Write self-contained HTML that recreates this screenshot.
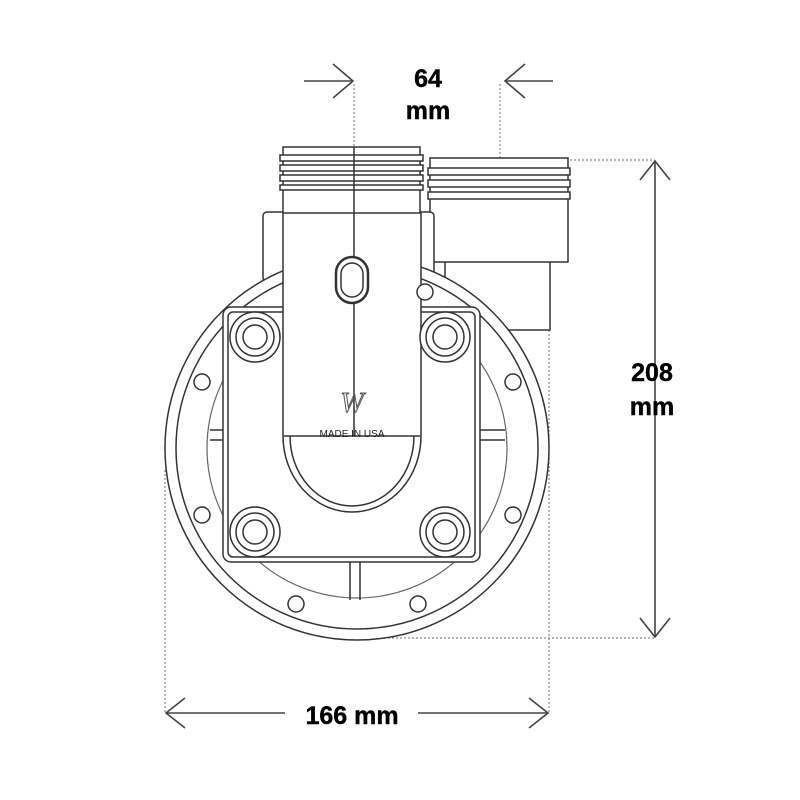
<!DOCTYPE html>
<html><head><meta charset="utf-8"><style>html,body{margin:0;padding:0;background:#fff}svg{display:block}</style></head>
<body>
<svg width="800" height="800" viewBox="0 0 800 800" xmlns="http://www.w3.org/2000/svg" font-family="Liberation Sans, sans-serif">
<g fill="none" stroke="#888" stroke-width="1.2" stroke-dasharray="2,2">
<line x1="354" y1="84" x2="354" y2="155"/>
<line x1="500" y1="84" x2="500" y2="160"/>
<line x1="570" y1="160" x2="655" y2="160"/>
<line x1="360" y1="638" x2="655" y2="638"/>
<line x1="165" y1="470" x2="165" y2="712"/>
<line x1="549" y1="330" x2="549" y2="712"/>
</g>
<g fill="none" stroke="#444" stroke-width="1.6">
<line x1="304" y1="81" x2="353" y2="81"/><polyline points="333,64 353,81 333,98"/>
<line x1="505" y1="81" x2="553" y2="81"/><polyline points="525,64 505,81 525,98"/>
<line x1="655" y1="161" x2="655" y2="637"/><polyline points="640,180 655,161 670,180"/><polyline points="640,618 655,637 670,618"/>
<line x1="166" y1="713" x2="285" y2="713"/><line x1="418" y1="713" x2="548" y2="713"/>
<polyline points="185,698 166,713 185,728"/><polyline points="529,698 548,713 529,728"/>
</g>
<g font-weight="bold" font-size="25" fill="#000" text-anchor="middle" stroke="#000" stroke-width="0.4">
<text x="428" y="87">64</text><text x="428" y="119">mm</text>
<text x="652" y="381">208</text><text x="652" y="415">mm</text>
<text x="352" y="724">166 mm</text>
</g>
<g fill="#fff" stroke="#333" stroke-width="1.5">
<rect x="445" y="255" width="105" height="75"/>
<rect x="430" y="158" width="138" height="104"/>
<rect x="428" y="168" width="142" height="7"/><rect x="428" y="180" width="142" height="7"/><rect x="428" y="192" width="142" height="7"/>
<rect x="263" y="212" width="25" height="70" rx="4"/>
<rect x="412" y="212" width="22" height="70" rx="4"/>
<circle cx="357" cy="448" r="192"/>
<circle cx="357" cy="448" r="181"/>
<circle cx="357" cy="448" r="150" stroke="#666" stroke-width="1.2"/>
<line x1="210" y1="430" x2="505" y2="430"/><line x1="210" y1="440" x2="505" y2="440"/>
<line x1="350" y1="555" x2="350" y2="600"/><line x1="360" y1="555" x2="360" y2="600"/>
<rect x="223" y="307" width="257" height="255" rx="8"/>
<rect x="228" y="312" width="247" height="245" rx="5"/>
<path d="M283,212 L283,436 A69,76 0 0 0 421,436 L421,212 Z"/>
<path d="M283,436 L421,436 M290,436 A62,70 0 0 0 414,436"/>
<rect x="283" y="147" width="137" height="66"/>
<rect x="280" y="155" width="143" height="6"/><rect x="280" y="165" width="143" height="6"/><rect x="280" y="175" width="143" height="6"/><rect x="280" y="185" width="143" height="5"/>
<line x1="354" y1="147" x2="354" y2="436"/>
<rect x="336" y="257" width="32" height="46" rx="16" stroke-width="2.5"/>
<rect x="341" y="263" width="22" height="34" rx="11"/>
</g>
<g stroke="#333" stroke-width="1.5" fill="#fff">
<circle cx="255" cy="337" r="25"/><circle cx="255" cy="337" r="19"/><circle cx="255" cy="337" r="12"/>
<circle cx="445" cy="337" r="25"/><circle cx="445" cy="337" r="19"/><circle cx="445" cy="337" r="12"/>
<circle cx="255" cy="532" r="25"/><circle cx="255" cy="532" r="19"/><circle cx="255" cy="532" r="12"/>
<circle cx="445" cy="532" r="25"/><circle cx="445" cy="532" r="19"/><circle cx="445" cy="532" r="12"/>
<circle cx="202" cy="382" r="8"/><circle cx="513" cy="382" r="8"/><circle cx="202" cy="515" r="8"/><circle cx="513" cy="515" r="8"/>
<circle cx="296" cy="604" r="8"/><circle cx="418" cy="604" r="8"/><circle cx="425" cy="292" r="8"/>
</g>
<text x="352" y="412" font-size="28" font-style="italic" fill="none" stroke="#555" stroke-width="1" text-anchor="middle" font-family="Liberation Serif, serif">W</text>
<text x="352" y="437" font-size="10" fill="#222" text-anchor="middle">MADE IN USA</text>
</svg>
</body></html>
